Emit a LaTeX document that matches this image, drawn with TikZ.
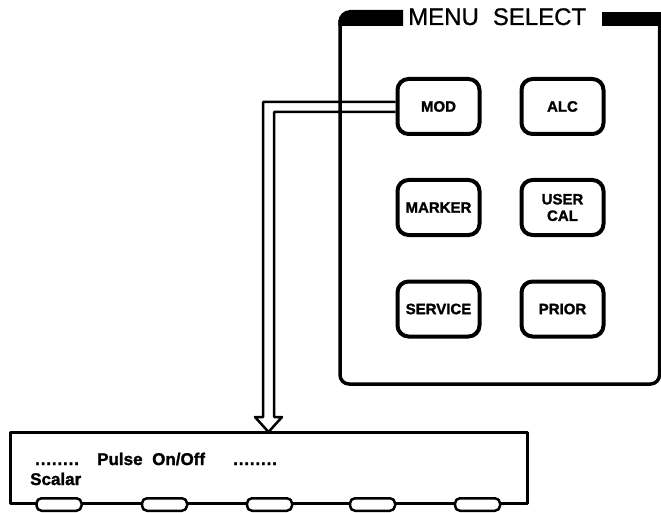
\documentclass[tikz,border=0pt]{standalone}
\usepackage{fontspec}
\setmainfont{Liberation Sans}
\newfontfamily\heavyfont[FakeBold=1.5]{Liberation Sans Bold}
\newfontfamily\titlefont[FakeBold=0.8]{Liberation Sans}
\begin{document}
\begin{tikzpicture}[x=1pt,y=-1pt,line join=round,
  btn/.style={draw,line width=4pt,rounded corners=11pt,minimum width=82pt,minimum height=55pt,
    inner sep=0pt,align=center,font=\heavyfont\fontsize{15}{16.5}\selectfont},
  softkey/.style={draw,fill=white,line width=2.5pt,rounded corners=5pt,minimum width=45pt,
    minimum height=12.5pt,inner sep=0pt},
  lbl/.style={anchor=base west,inner sep=0pt,font=\heavyfont\fontsize{17}{17}\selectfont},
  conn/.style={line width=2.5pt}]
\useasboundingbox (0,0) rectangle (661,513);
% buttons
\node[btn] (mod) at (438.5,106.5) {MOD};
\node[btn] (alc) at (562.5,106.5) {ALC};
\node[btn] (marker) at (438.5,207.5) {MARKER};
\node[btn] (usercal) at (562.5,207.5) {USER\\CAL};
\node[btn] (service) at (438.5,309) {SERVICE};
\node[btn] (prior) at (562.5,309) {PRIOR};
% display
\node[draw,line width=3pt,outer sep=0pt,inner sep=0pt,minimum width=517pt,minimum height=71pt]
  (display) at (268.5,467.5) {};
% connector (hollow arrow)
\draw[conn] ([yshift=4.5pt]mod.west) -| ([xshift=-5.5pt,yshift=15pt]display.north)
  -- ([xshift=-13.5pt,yshift=15pt]display.north) -- (display.north)
  -- ([xshift=13.5pt,yshift=15pt]display.north) -- ([xshift=5.5pt,yshift=15pt]display.north)
  |- ([yshift=-5.5pt]mod.west);
% panel
\draw[line width=3.5pt,rounded corners=9pt] (340,20) -- (340,384) -- (659.5,384) -- (659.5,20);
\fill (338.25,26) [rounded corners=12pt] -- (338.25,10) [sharp corners] -- (403,10) -- (403,26) -- cycle;
\fill (602,12) rectangle (662,26);
\node[anchor=base west,inner sep=0pt,font=\titlefont\fontsize{24}{24}\selectfont] (title) at (408,25) {MENU\hspace{14pt}SELECT};
% soft keys
\node[softkey] (k1) at (59,504.5) {};
\node[softkey] (k2) at (164.5,504.5) {};
\node[softkey] (k3) at (269.5,504.5) {};
\node[softkey] (k4) at (372.5,504.5) {};
\node[softkey] (k5) at (477.5,504.5) {};
% labels
\node[lbl] (d1) at (35,465) {\addfontfeature{LetterSpace=5}........};
\node[lbl] (pulse) at (97,465) {Pulse};
\node[lbl] (onoff) at (152,465) {On/Off};
\node[lbl] (d2) at (233,465) {\addfontfeature{LetterSpace=5}........};
\node[lbl] (scalar) at (30,485) {Scalar};
\end{tikzpicture}
\end{document}
